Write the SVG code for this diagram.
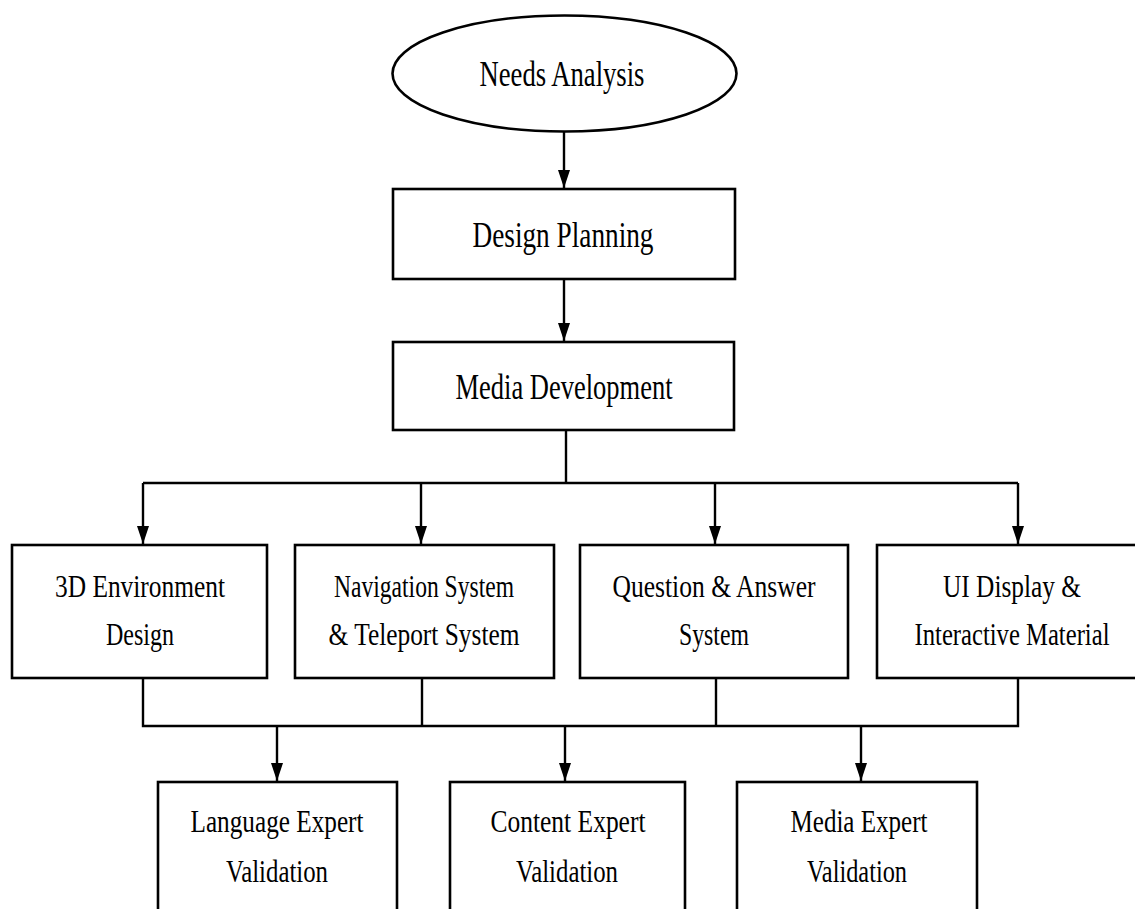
<svg xmlns="http://www.w3.org/2000/svg" width="1135" height="909" viewBox="0 0 1135 909">
<style>
.n{fill:#fff;stroke:#000;stroke-width:2.6}
.c{fill:none;stroke:#000;stroke-width:2.4}
.t{font-family:"Liberation Serif","Times New Roman",serif;font-size:31px;fill:#000;text-anchor:middle}
.tl{font-size:35px}
</style>
<defs>
<marker id="arr" markerWidth="18" markerHeight="12" refX="18" refY="6" orient="auto" markerUnits="userSpaceOnUse" viewBox="0 0 18 12">
<path d="M0,0 L18,6 L0,12 Z" fill="#000"/>
</marker>
</defs>
<rect width="1135" height="909" fill="#fff"/>
<g id="connectors">
<path class="c" d="M564,132 V188" marker-end="url(#arr)"/>
<path class="c" d="M564,279 V341" marker-end="url(#arr)"/>
<path class="c" d="M566,430 V483"/>
<path class="c" d="M143,483 H1018"/>
<path class="c" d="M143,483 V544" marker-end="url(#arr)"/>
<path class="c" d="M421,483 V544" marker-end="url(#arr)"/>
<path class="c" d="M715,483 V544" marker-end="url(#arr)"/>
<path class="c" d="M1018,483 V544" marker-end="url(#arr)"/>
<path class="c" d="M143,678 V726 H1018 V678"/>
<path class="c" d="M422,678 V726"/>
<path class="c" d="M716,678 V726"/>
<path class="c" d="M277,726 V781" marker-end="url(#arr)"/>
<path class="c" d="M565,726 V781" marker-end="url(#arr)"/>
<path class="c" d="M861,726 V781" marker-end="url(#arr)"/>
</g>
<g id="needs-analysis">
<ellipse class="n" cx="564.5" cy="73.5" rx="172" ry="58"/>
<text class="t tl" x="562" y="86" textLength="165" lengthAdjust="spacingAndGlyphs">Needs Analysis</text>
</g>
<g id="design-planning">
<rect class="n" x="393" y="189" width="342" height="90"/>
<text class="t tl" x="563" y="247" textLength="181" lengthAdjust="spacingAndGlyphs">Design Planning</text>
</g>
<g id="media-development">
<rect class="n" x="393" y="342" width="341" height="88"/>
<text class="t tl" x="564" y="399" textLength="217" lengthAdjust="spacingAndGlyphs">Media Development</text>
</g>
<g id="env-design">
<rect class="n" x="12" y="545" width="255" height="133"/>
<text class="t" x="140" y="597" textLength="170" lengthAdjust="spacingAndGlyphs">3D Environment</text>
<text class="t" x="140" y="645" textLength="68" lengthAdjust="spacingAndGlyphs">Design</text>
</g>
<g id="navigation">
<rect class="n" x="295" y="545" width="259" height="133"/>
<text class="t" x="424" y="597" textLength="180" lengthAdjust="spacingAndGlyphs">Navigation System</text>
<text class="t" x="424" y="645" textLength="191" lengthAdjust="spacingAndGlyphs">&amp; Teleport System</text>
</g>
<g id="qa-system">
<rect class="n" x="580" y="545" width="268" height="133"/>
<text class="t" x="714" y="597" textLength="203" lengthAdjust="spacingAndGlyphs">Question &amp; Answer</text>
<text class="t" x="714" y="645" textLength="70" lengthAdjust="spacingAndGlyphs">System</text>
</g>
<g id="ui-display">
<rect class="n" x="877" y="545" width="276" height="133"/>
<text class="t" x="1012" y="597" textLength="138" lengthAdjust="spacingAndGlyphs">UI Display &amp;</text>
<text class="t" x="1012" y="645" textLength="195" lengthAdjust="spacingAndGlyphs">Interactive Material</text>
</g>
<g id="language-validation">
<rect class="n" x="158" y="782" width="239" height="150"/>
<text class="t" x="277" y="832" textLength="173" lengthAdjust="spacingAndGlyphs">Language Expert</text>
<text class="t" x="277" y="882" textLength="102" lengthAdjust="spacingAndGlyphs">Validation</text>
</g>
<g id="content-validation">
<rect class="n" x="450" y="782" width="235" height="150"/>
<text class="t" x="568" y="832" textLength="155" lengthAdjust="spacingAndGlyphs">Content Expert</text>
<text class="t" x="567" y="882" textLength="102" lengthAdjust="spacingAndGlyphs">Validation</text>
</g>
<g id="media-validation">
<rect class="n" x="737" y="782" width="240" height="150"/>
<text class="t" x="859" y="832" textLength="137" lengthAdjust="spacingAndGlyphs">Media Expert</text>
<text class="t" x="857" y="882" textLength="100" lengthAdjust="spacingAndGlyphs">Validation</text>
</g>
</svg>
